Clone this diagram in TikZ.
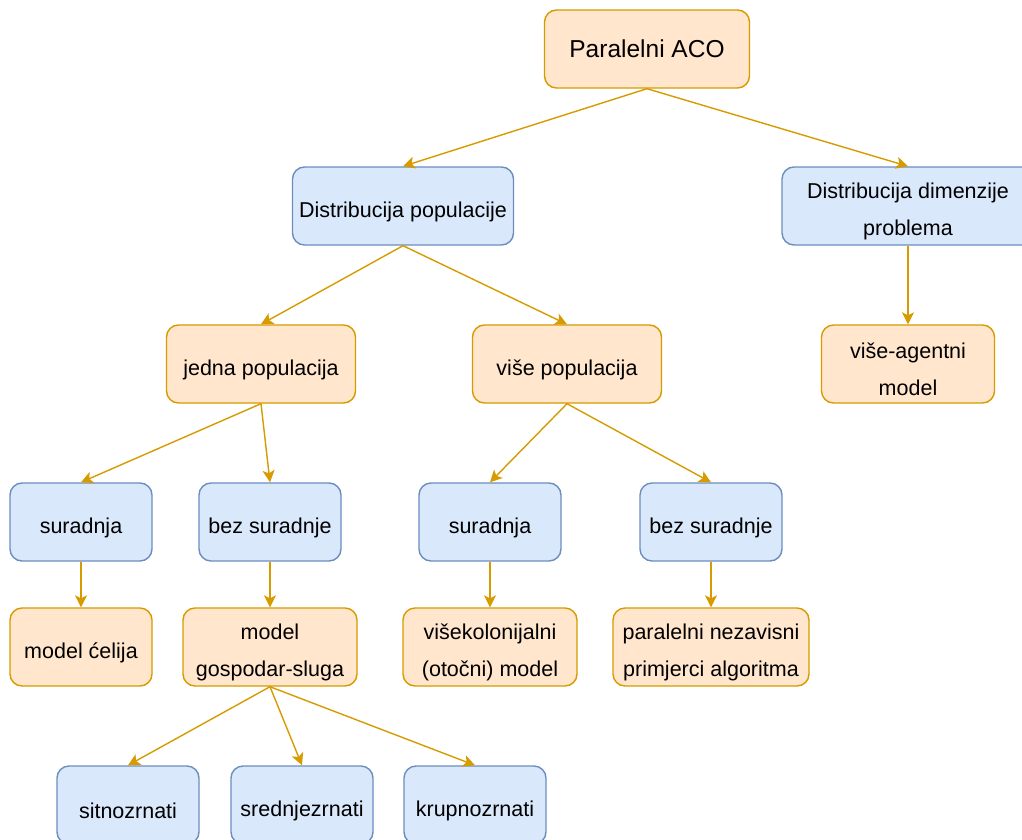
\documentclass[tikz,border=0pt]{standalone}
\usepackage{fontspec}
\setmainfont{Liberation Sans}
\usetikzlibrary{arrows.meta}

\definecolor{orfill}{HTML}{FFE6CC}
\definecolor{ordraw}{HTML}{D79B00}
\definecolor{blfill}{HTML}{DAE8FC}
\definecolor{bldraw}{HTML}{6C8EBF}
\newcommand{\dnstrut}{\rule{0pt}{27pt}}
\newcommand{\dnstrutii}{\rule{0pt}{64pt}}

\begin{document}
\begin{tikzpicture}[x=1pt, y=-1pt,
   basebox/.style={rounded corners=12pt, line width=1.4pt, minimum height=78pt,
      align=center, inner sep=0pt, font=\fontsize{21.5}{37}\selectfont},
   box/.style={basebox, execute at begin node=\dnstrut},
   twoline/.style={execute at begin node=\dnstrutii},
   orbox/.style={box, draw=ordraw, fill=orfill},
   blbox/.style={box, draw=bldraw, fill=blfill},
   link/.style={draw=ordraw, line width=1.4pt,
      -{Stealth[length=12pt, width=12pt, inset=3pt]}}]%
   \useasboundingbox (0,0) rectangle (1022,840);
   \clip (0,0) rectangle (1022,840);
   \fill[white] (0,0) rectangle (1022,840);
   % top
   \node[basebox, draw=ordraw, fill=orfill, minimum width=205pt,
      font=\fontsize{24.5}{30}\selectfont] (aco) at (647,49) {Paralelni ACO};
   \node[blbox, minimum width=221pt] (pop) at (403,206) {Distribucija populacije};
   \node[blbox, twoline, minimum width=252pt] (dim) at (908,206) {Distribucija dimenzije\\problema};
   % second level
   \node[orbox, minimum width=189pt] (jedna) at (261,364) {jedna populacija};
   \node[orbox, minimum width=189pt] (vise) at (567,364) {više populacija};
   \node[orbox, twoline, minimum width=173pt] (agent) at (908,364) {više-agentni\\model};
   % third level
   \node[blbox, minimum width=142pt] (sur1) at (81,522) {suradnja};
   \node[blbox, minimum width=142pt] (bez1) at (270,522) {bez suradnje};
   \node[blbox, minimum width=142pt] (sur2) at (490,522) {suradnja};
   \node[blbox, minimum width=142pt] (bez2) at (711,522) {bez suradnje};
   % models
   \node[orbox, minimum width=142pt] (celija) at (81,647) {model ćelija};
   \node[orbox, twoline, minimum width=174pt] (gosp) at (270,647) {model\\gospodar-sluga};
   \node[orbox, twoline, minimum width=174pt] (otok) at (490,647) {višekolonijalni\\(otočni) model};
   \node[orbox, twoline, minimum width=196pt] (nez) at (711,647) {paralelni nezavisni\\primjerci algoritma};
   % granularity
   \node[blbox, minimum width=142pt] (sitno) at (128,805) {sitnozrnati};
   \node[blbox, minimum width=142pt] (sred) at (302,805) {srednjezrnati};
   \node[blbox, minimum width=142pt] (krup) at (475,805) {krupnozrnati};
   % connectors
   \draw[link] (aco.south) -- (pop.north);
   \draw[link] (aco.south) -- (dim.north);
   \draw[link] (pop.south) -- (jedna.north);
   \draw[link] (pop.south) -- (vise.north);
   \draw[link] (dim.south) -- (agent.north);
   \draw[link] (jedna.south) -- (sur1.north);
   \draw[link] (jedna.south) -- (bez1.north);
   \draw[link] (vise.south) -- (sur2.north);
   \draw[link] (vise.south) -- (bez2.north);
   \draw[link] (sur1.south) -- (celija.north);
   \draw[link] (bez1.south) -- (gosp.north);
   \draw[link] (sur2.south) -- (otok.north);
   \draw[link] (bez2.south) -- (nez.north);
   \draw[link] (gosp.south) -- (sitno.north);
   \draw[link] (gosp.south) -- (sred.north);
   \draw[link] (gosp.south) -- (krup.north);
\end{tikzpicture}
\end{document}
